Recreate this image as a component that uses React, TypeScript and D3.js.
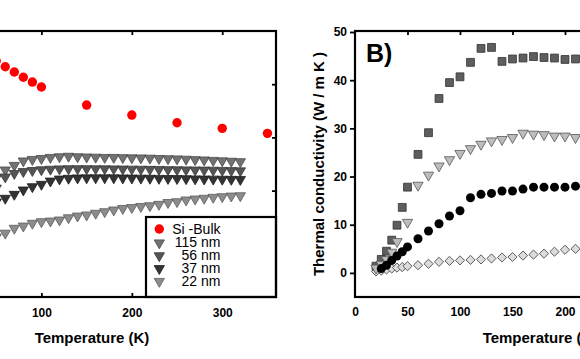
import { useEffect, useRef } from "react";
import * as d3 from "d3";

// ---- left panel (Si bulk + nanowires) ----
const bulkT = [50, 60, 70, 80, 90, 100, 150, 200, 250, 300, 350];
const bulkK = [221.8, 216.4, 211.5, 206.5, 202.0, 197.4, 180.4, 171.0, 163.8, 158.5, 153.8];

const wireT = [50, 60, 70, 80, 90, 100, 110, 120, 130, 140, 150, 160, 170, 180, 190, 200, 210, 220, 230, 240, 250, 260, 270, 280, 290, 300, 310, 320];
const nw115 = [111.8, 119.4, 123.7, 127.9, 129.3, 130.2, 131.2, 131.8, 132.3, 131.8, 131.6, 131.4, 131.2, 131.2, 131.0, 130.8, 130.7, 130.5, 130.2, 130.0, 129.8, 129.5, 129.1, 128.8, 128.4, 128.0, 127.6, 127.2];
const nw56 = [102.4, 112.8, 116.1, 117.9, 118.9, 119.6, 120.1, 120.4, 120.6, 120.6, 120.6, 120.5, 120.5, 120.4, 120.3, 120.2, 120.1, 120.0, 119.9, 119.7, 119.6, 119.5, 119.4, 119.3, 119.2, 119.0, 118.8, 118.6];
const nw37 = [89.3, 92.8, 96.5, 100.6, 103.7, 105.9, 109.0, 110.9, 111.6, 111.9, 112.0, 112.0, 112.0, 112.0, 111.9, 111.8, 111.7, 111.6, 111.5, 111.4, 111.3, 111.2, 111.0, 110.9, 110.8, 110.7, 110.6, 110.5];
const nw22 = [56.4, 60.0, 64.6, 66.7, 69.3, 70.8, 71.4, 72.4, 74.5, 76.1, 77.1, 78.7, 80.2, 81.8, 83.2, 84.1, 85.1, 85.8, 87.1, 88.8, 89.6, 91.2, 92.1, 92.8, 93.7, 94.3, 94.9, 95.2];

const legendLabels = ["Si -Bulk", "115 nm", "56 nm", "37 nm", "22 nm"];

// ---- right panel (B) ----
const sqT = [20, 25, 30, 35, 40, 45, 50, 60, 70, 80, 90, 100, 110, 120, 130, 140, 150, 160, 170, 180, 190, 200, 210];
const sqK = [1.4, 2.8, 4.5, 6.8, 9.9, 13.6, 17.8, 24.6, 29.1, 36.2, 39.5, 40.7, 43.7, 46.6, 46.8, 43.9, 44.4, 44.6, 44.9, 44.7, 44.6, 44.3, 44.4];
const triT = [20, 25, 30, 35, 40, 50, 60, 70, 80, 90, 100, 110, 120, 130, 140, 150, 160, 170, 180, 190, 200, 210];
const triK = [1.0, 1.8, 2.8, 4.3, 6.5, 10.5, 18.2, 20.3, 22.2, 23.5, 24.8, 25.8, 26.7, 27.4, 27.7, 28.1, 29.0, 28.8, 28.7, 28.4, 28.4, 28.1];
const dotT = [25, 30, 35, 40, 45, 50, 60, 70, 80, 90, 100, 110, 120, 130, 140, 150, 160, 170, 180, 190, 200, 210];
const dotK = [0.9, 1.6, 2.6, 3.5, 4.4, 5.4, 7.1, 8.7, 10.2, 11.8, 12.9, 15.6, 16.3, 16.5, 17.0, 17.0, 17.4, 17.8, 17.8, 17.8, 17.8, 18.0];
const diaT = [20, 25, 30, 35, 40, 45, 50, 60, 70, 80, 90, 100, 110, 120, 130, 140, 150, 160, 170, 180, 190, 200, 210];
const diaK = [0.3, 0.5, 0.7, 0.9, 1.1, 1.2, 1.4, 1.6, 1.9, 2.3, 2.5, 2.6, 2.7, 2.8, 3.0, 3.2, 3.3, 3.6, 3.8, 4.0, 4.4, 4.8, 5.0];

const rightYTicks = [0, 10, 20, 30, 40, 50];
const rightXTicks = [0, 50, 100, 150, 200, 250];
const leftXTicks = [100, 200, 300];
const leftYTicks = [50, 100, 150, 200];

const FONT = "Arial, 'Liberation Sans', sans-serif";

export default function App() {
  const svgRef = useRef(null);

  useEffect(() => {
    const svg = d3.select(svgRef.current);
    svg.selectAll("*").remove();

    const xL = d3.scaleLinear().domain([0, 360]).range([-49, 276.5]);
    const yL = d3.scaleLinear().domain([0, 250]).range([297, 31]);
    const xR = d3.scaleLinear().domain([0, 350]).range([355, 722.5]);
    const yR = d3.scaleLinear().domain([-5, 50]).range([297, 32]);

    const tri = d3.symbol().type(d3.symbolTriangle).size(46)();
    const sq = d3.symbol().type(d3.symbolSquare).size(62)();
    const dia = d3.symbol().type(d3.symbolSquare).size(42)();

    const styleAxis = (g) => {
      g.select(".domain").remove();
      g.selectAll(".tick line").attr("stroke", "#000").attr("stroke-width", 1.8);
      g.selectAll("text")
        .attr("fill", "#000")
        .style("font-family", FONT)
        .style("font-size", "12px")
        .style("font-weight", "bold");
    };

    // ---------- left panel ----------
    const left = svg.append("g");

    left.append("g")
      .attr("transform", "translate(0,297)")
      .call(d3.axisBottom(xL).tickValues(leftXTicks).tickSizeInner(-4).tickSizeOuter(0).tickPadding(11))
      .call(styleAxis);
    left.append("g")
      .attr("transform", "translate(0,31)")
      .call(d3.axisTop(xL).tickValues(leftXTicks).tickSizeInner(-4).tickSizeOuter(0).tickFormat(() => ""))
      .call(styleAxis);
    left.append("g")
      .attr("transform", "translate(276,0)")
      .call(d3.axisLeft(yL).tickValues(leftYTicks).tickSizeInner(4).tickSizeOuter(0).tickFormat(() => ""))
      .call(styleAxis);

    left.append("text")
      .attr("x", 92)
      .attr("y", 342.5)
      .attr("text-anchor", "middle")
      .style("font-family", FONT)
      .style("font-size", "15px")
      .style("font-weight", "bold")
      .text("Temperature (K)");

    const wires = [
      { k: nw115, fill: "#727272", stroke: "#4a4a4a" },
      { k: nw56, fill: "#555555", stroke: "#383838" },
      { k: nw37, fill: "#333333", stroke: "#1e1e1e" },
      { k: nw22, fill: "#8c8c8c", stroke: "#5c5c5c" },
    ];
    wires.forEach((w) => {
      left.append("g")
        .selectAll("path")
        .data(wireT.map((t, i) => [t, w.k[i]]))
        .enter()
        .append("path")
        .attr("d", tri)
        .attr("transform", (d) => `translate(${xL(d[0])},${yL(d[1])}) rotate(180)`)
        .attr("fill", w.fill)
        .attr("stroke", w.stroke)
        .attr("stroke-width", 0.8);
    });

    left.append("g")
      .selectAll("circle")
      .data(bulkT.map((t, i) => [t, bulkK[i]]))
      .enter()
      .append("circle")
      .attr("cx", (d) => xL(d[0]))
      .attr("cy", (d) => yL(d[1]))
      .attr("r", 4.7)
      .attr("fill", "#ff0000");

    // legend
    const leg = left.append("g");
    leg.append("rect")
      .attr("x", 146)
      .attr("y", 217)
      .attr("width", 130)
      .attr("height", 80)
      .attr("fill", "#fff")
      .attr("stroke", "#000")
      .attr("stroke-width", 2.2);
    const legMarks = [
      { fill: "#ff0000", stroke: "none" },
      { fill: "#727272", stroke: "#4a4a4a" },
      { fill: "#555555", stroke: "#383838" },
      { fill: "#333333", stroke: "#1e1e1e" },
      { fill: "#8c8c8c", stroke: "#5c5c5c" },
    ];
    legendLabels.forEach((lab, i) => {
      const base = 234.3 + i * 12.85;
      if (i === 0) {
        leg.append("circle").attr("cx", 159.3).attr("cy", 229).attr("r", 4.7).attr("fill", legMarks[0].fill);
      } else {
        leg.append("path")
          .attr("d", tri)
          .attr("transform", `translate(159.3,${base - 4.3}) rotate(180)`)
          .attr("fill", legMarks[i].fill)
          .attr("stroke", legMarks[i].stroke)
          .attr("stroke-width", 0.8);
      }
      leg.append("text")
        .attr("x", 220.5)
        .attr("y", base)
        .attr("text-anchor", "end")
        .style("font-family", FONT)
        .style("font-size", "14px")
        .text(lab);
    });

    // left frame
    left.append("rect")
      .attr("x", -20)
      .attr("y", 31)
      .attr("width", 296)
      .attr("height", 266)
      .attr("fill", "none")
      .attr("stroke", "#000")
      .attr("stroke-width", 2.2);

    // ---------- right panel ----------
    const right = svg.append("g");

    right.append("g")
      .attr("transform", "translate(0,297)")
      .call(d3.axisBottom(xR).tickValues(rightXTicks).tickSizeInner(0).tickSizeOuter(0).tickPadding(10.5))
      .call(styleAxis);
    right.append("g")
      .attr("transform", "translate(0,31)")
      .call(d3.axisTop(xR).tickValues(rightXTicks.slice(1)).tickSizeInner(-4).tickSizeOuter(0).tickFormat(() => ""))
      .call(styleAxis);
    right.append("g")
      .attr("transform", "translate(355,0)")
      .call(d3.axisLeft(yR).tickValues(rightYTicks).tickSizeInner(5).tickSizeOuter(0).tickPadding(3))
      .call(styleAxis);

    right.append("text")
      .attr("transform", "translate(323.5,164) rotate(-90)")
      .attr("text-anchor", "middle")
      .style("font-family", FONT)
      .style("font-size", "15px")
      .style("font-weight", "bold")
      .text("Thermal conductivity (W / m K )");

    right.append("text")
      .attr("x", 540)
      .attr("y", 342.5)
      .attr("text-anchor", "middle")
      .style("font-family", FONT)
      .style("font-size", "15px")
      .style("font-weight", "bold")
      .text("Temperature (K)");

    right.append("text")
      .attr("x", 366)
      .attr("y", 61.5)
      .style("font-family", FONT)
      .style("font-size", "25px")
      .style("font-weight", "bold")
      .text("B)");

    right.append("g")
      .selectAll("path")
      .data(diaT.map((t, i) => [t, diaK[i]]))
      .enter()
      .append("path")
      .attr("d", dia)
      .attr("transform", (d) => `translate(${xR(d[0])},${yR(d[1])}) rotate(45)`)
      .attr("fill", "#dcdcdc")
      .attr("stroke", "#555")
      .attr("stroke-width", 0.9);

    right.append("g")
      .selectAll("path")
      .data(sqT.map((t, i) => [t, sqK[i]]))
      .enter()
      .append("path")
      .attr("d", sq)
      .attr("transform", (d) => `translate(${xR(d[0])},${yR(d[1])})`)
      .attr("fill", "#5e5e5e")
      .attr("stroke", "#333")
      .attr("stroke-width", 0.8);

    right.append("g")
      .selectAll("path")
      .data(triT.map((t, i) => [t, triK[i]]))
      .enter()
      .append("path")
      .attr("d", tri)
      .attr("transform", (d) => `translate(${xR(d[0])},${yR(d[1])}) rotate(180)`)
      .attr("fill", "#bdbdbd")
      .attr("stroke", "#555")
      .attr("stroke-width", 0.8);

    right.append("g")
      .selectAll("circle")
      .data(dotT.map((t, i) => [t, dotK[i]]))
      .enter()
      .append("circle")
      .attr("cx", (d) => xR(d[0]))
      .attr("cy", (d) => yR(d[1]))
      .attr("r", 4.5)
      .attr("fill", "#000");

    // right frame
    right.append("rect")
      .attr("x", 355)
      .attr("y", 31)
      .attr("width", 400)
      .attr("height", 266)
      .attr("fill", "none")
      .attr("stroke", "#000")
      .attr("stroke-width", 2.2);
  }, []);

  return (
    <svg
      ref={svgRef}
      width={580}
      height={359}
      style={{ position: "absolute", left: 0, top: 0, background: "#fff" }}
    />
  );
}
